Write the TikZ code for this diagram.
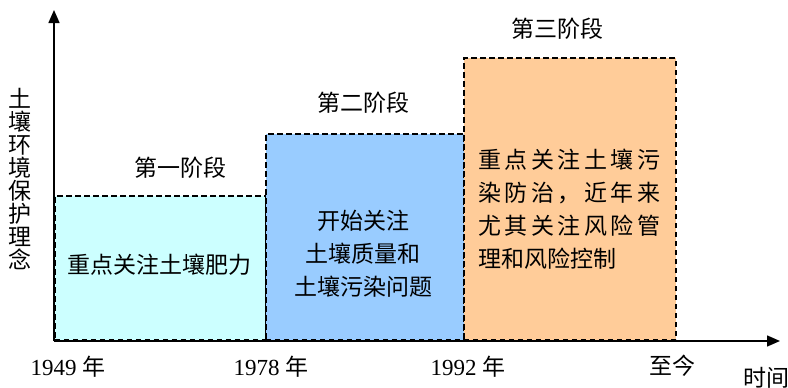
\documentclass[tikz,border=0pt]{standalone}
\usepackage{fontspec}
\setmainfont{Liberation Serif}
\newfontfamily\cjk{Noto Sans CJK SC}
\usetikzlibrary{arrows.meta}
\definecolor{stageA}{HTML}{CCFFFF}
\definecolor{stageB}{HTML}{99CCFF}
\definecolor{stageC}{HTML}{FFCC99}
\tikzset{
  stagebox/.style={draw=black, dash pattern=on 5.5pt off 3.5pt, line width=1.8pt, inner sep=0pt, anchor=south west},
  axisline/.style={line width=1.5pt, -{Triangle[length=13pt,width=11pt]}},
  lbl/.style={font=\fontsize{23}{33}\selectfont\cjk, inner sep=0pt},
  yearlbl/.style={font=\fontsize{23}{28}\selectfont, inner sep=0pt}
}
\begin{document}
\begin{tikzpicture}[x=1pt,y=-1pt]
\useasboundingbox (0,0) rectangle (788,388);
% stage boxes
\node[stagebox, fill=stageA, minimum width=211pt, minimum height=144pt] (b1) at (54,341) {};
\node[stagebox, fill=stageB, minimum width=198pt, minimum height=206pt] (b2) at (265,341) {};
\node[stagebox, fill=stageC, minimum width=212pt, minimum height=282pt] (b3) at (463,341) {};
% axes
\coordinate (o) at (54,341);
\coordinate (ytip) at (54,10);
\coordinate (xtip) at (780,341);
\draw[axisline] (o) -- (ytip);
\draw[axisline] (o) -- (xtip);
% stage titles
\node[lbl] (t1) at (180,168) {第一阶段};
\node[lbl] (t2) at (363,103) {第二阶段};
\node[lbl] (t3) at (557,29) {第三阶段};
% box texts
\node[lbl] (x1) at (159,265) {重点关注土壤肥力};
\node[lbl, align=center] (x2) at (363,254) {开始关注\\土壤质量和\\土壤污染问题};
\node[lbl, align=left, anchor=west] (x3) at (478,209) {%
\makebox[182pt][l]{重\hfill 点\hfill 关\hfill 注\hfill 土\hfill 壤\hfill 污}\\
\makebox[182pt][l]{染\hfill 防\hfill 治\hfill ，\hfill 近\hfill 年\hfill 来}\\
\makebox[182pt][l]{尤\hfill 其\hfill 关\hfill 注\hfill 风\hfill 险\hfill 管}\\
\makebox[182pt][l]{理和风险控制}};
% y axis label
\node[lbl, align=center, font=\fontsize{23}{23}\selectfont\cjk] (ylab) at (20,179) {土\\壤\\环\\境\\保\\护\\理\\念};
% years
\node[yearlbl] (y1) at (68,367) {1949 {\cjk 年}};
\node[yearlbl] (y2) at (271,367) {1978 {\cjk 年}};
\node[yearlbl] (y3) at (468,367) {1992 {\cjk 年}};
\node[lbl] (y4) at (672,366) {至今};
\node[lbl] (tl) at (766,378) {时间};
\end{tikzpicture}
\end{document}
